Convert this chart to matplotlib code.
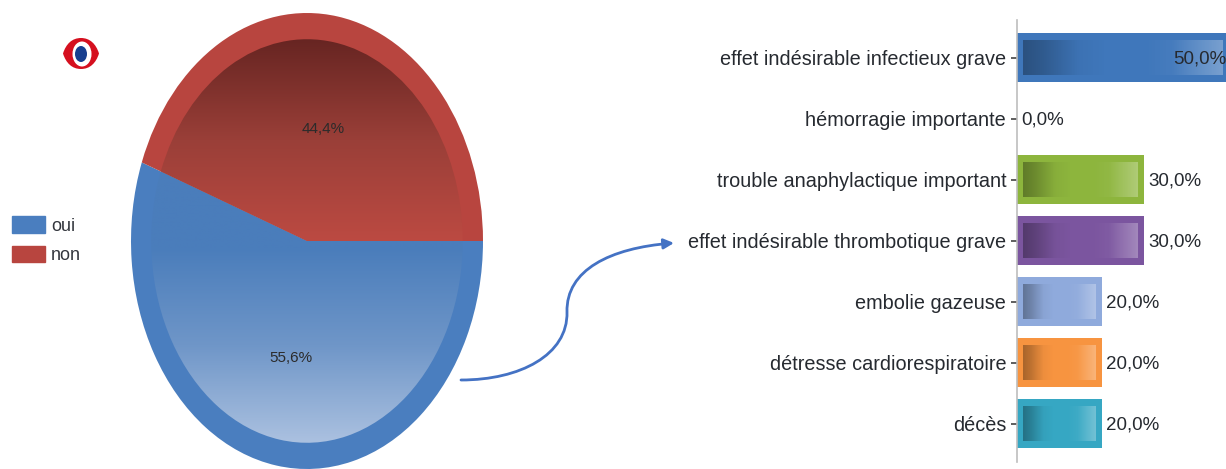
import numpy as np
import matplotlib
matplotlib.use("Agg")
import matplotlib.pyplot as plt
from matplotlib.colors import LinearSegmentedColormap
from matplotlib.patches import Ellipse, PathPatch, FancyArrowPatch, Patch
from matplotlib.path import Path

plt.rcParams['font.family'] = ['Liberation Sans', 'DejaVu Sans']

# Data
pie_labels = ["oui", "non"]
pie_values = [55.6, 44.4]
pie_colors = ["#4A7EBF", "#B8453F"]
bar_categories = ["effet indésirable infectieux grave", "hémorragie importante",
                  "trouble anaphylactique important", "effet indésirable thrombotique grave",
                  "embolie gazeuse", "détresse cardiorespiratoire", "décès"]
bar_values = [50.0, 0.0, 30.0, 30.0, 20.0, 20.0, 20.0]
bar_colors = ["#3F77BB", "#8DB53D", "#8DB53D", "#7B559F", "#8FAADC", "#F79440", "#36A7C3"]

W, H = 1226, 469
TXT = "#262a30"
fig = plt.figure(figsize=(W / 100, H / 100), dpi=100, facecolor="white")


def axes_px(x0, y0, x1, y1, **kw):
    return fig.add_axes([x0 / W, 1 - y1 / H, (x1 - x0) / W, (y1 - y0) / H], **kw)


# ---------- Pie ----------
ax = axes_px(131, 13, 483, 469)
fmt = lambda p: f"{p:.1f}%".replace(".", ",")
outer, _, autotexts = ax.pie(pie_values, colors=pie_colors, startangle=0, counterclock=False,
                             autopct=fmt, pctdistance=0.51, radius=1.0,
                             textprops=dict(fontsize=11, color="#2b2b2b", zorder=6))
for t in autotexts:
    px_, py_ = t.get_position()
    t.set_position((px_, py_ - 0.011))
inner, _ = ax.pie(pie_values, colors=pie_colors, startangle=0, counterclock=False, radius=0.885)
ax.set_aspect("auto")

grads = [
    (LinearSegmentedColormap.from_list("b", ["#ABC1E0", "#6F96C8", "#4A7DBB", "#4A7DBB"]), (-1, 1, -0.885, 0.4)),
    (LinearSegmentedColormap.from_list("r", ["#BC4A42", "#9A3F38", "#672522"]), (-1, 1, 0, 0.885)),
]
ramp = np.linspace(0, 1, 256)[:, None]
for w, (cm, ext) in zip(inner, grads):
    w.set_visible(False)
    im = ax.imshow(ramp, origin="lower", extent=ext, cmap=cm, aspect="auto", zorder=3)
    im.set_clip_path(w)
ax.set_xlim(-1, 1)
ax.set_ylim(-1, 1)
ax.axis("off")

# Legend
fig.legend(handles=[Patch(color=c, label=l) for c, l in zip(pie_colors, pie_labels)],
           loc="upper left", bbox_to_anchor=(-2 / W, 1 - 202 / H), frameon=False,
           fontsize=13, labelcolor="#33363d", handlelength=1.8, handleheight=1.0,
           handletextpad=0.35, labelspacing=0.6, borderpad=0.3)

# ---------- Bars ----------
bx = axes_px(1017, 20, 1226, 462)
PX = 127 / 30.0
ypos = np.arange(len(bar_values))
bars = bx.barh(ypos, bar_values, height=0.79, color=bar_colors, zorder=2)
shade = np.array([[0.0, 0, 0, 0.32], [0, 0, 0, 0.24], [0, 0, 0, 0.04], [0, 0, 0, 0.0],
                  [1, 1, 1, 0.0], [1, 1, 1, 0.04], [1, 1, 1, 0.14], [1, 1, 1, 0.30]])
xs = np.linspace(0, 1, 128)
stops = np.array([0, .1, .28, .42, .6, .75, .84, 1.0])
rgba = np.stack([np.interp(xs, stops, shade[:, i]) for i in range(4)], axis=-1)[None, :, :]
inset_x, inset_y = 6 / PX, 7 / 61
for b, v, y in zip(bars, bar_values, ypos):
    if v <= 0:
        continue
    x1 = v - inset_x
    top, bot = y - b.get_height() / 2 + inset_y, y + b.get_height() / 2 - inset_y
    bx.imshow(rgba, extent=(inset_x, x1, bot, top), aspect="auto", zorder=3,
              interpolation="bilinear")
bx.set_xlim(0, 209 / PX)
bx.set_ylim(6.63, -0.615)

for v, y in zip(bar_values, ypos):
    lab = f"{v:.1f}%".replace(".", ",")
    if v >= 50:
        bx.annotate(lab, (209 / PX, y), xytext=(0, -1), textcoords="offset points", ha="right",
                    va="center", fontsize=13.5, color=TXT, zorder=5, annotation_clip=False)
    else:
        bx.annotate(lab, (v, y), xytext=(3.0, -1), textcoords="offset points", ha="left",
                    va="center", fontsize=13.5, color=TXT, zorder=5)

bx.set_yticks(ypos, bar_categories)
bx.tick_params(axis="y", length=4.3, width=1.1, color="#333333", pad=3.5, labelsize=14.3, labelcolor=TXT)
bx.set_xticks([])
for s in ("top", "right", "bottom"):
    bx.spines[s].set_visible(False)
bx.spines["left"].set_color("#BDBDBD")
bx.spines["left"].set_linewidth(1.2)
bx.patch.set_alpha(0)

# ---------- Overlay: eye icon and connector ----------
ov = axes_px(0, 0, W, H)
ov.set_xlim(0, W)
ov.set_ylim(H, 0)
ov.axis("off")
eye = Path([(63, 53.5), (66, 44), (72, 38), (81, 38), (90, 38), (96, 44), (99, 53.5),
            (96, 63), (90, 69), (81, 69), (72, 69), (66, 63), (63, 53.5)],
           [Path.MOVETO] + [Path.CURVE4] * 12)
ov.add_patch(PathPatch(eye, fc="#D5101F", ec="none"))
ov.add_patch(Ellipse((82, 54), 19, 25, fc="white", ec="none"))
ov.add_patch(Ellipse((81, 54), 12, 16, fc="#173F8F", ec="none"))

curve = Path([(461, 380), (520, 380), (568, 355), (567, 312),
              (566, 270), (610, 248), (674, 243)],
             [Path.MOVETO] + [Path.CURVE4] * 6)
ov.add_patch(FancyArrowPatch(path=curve, arrowstyle="-|>,head_length=6,head_width=3",
                             color="#4472C4", lw=2.0, zorder=8))

fig.savefig("out.png", dpi=100)
